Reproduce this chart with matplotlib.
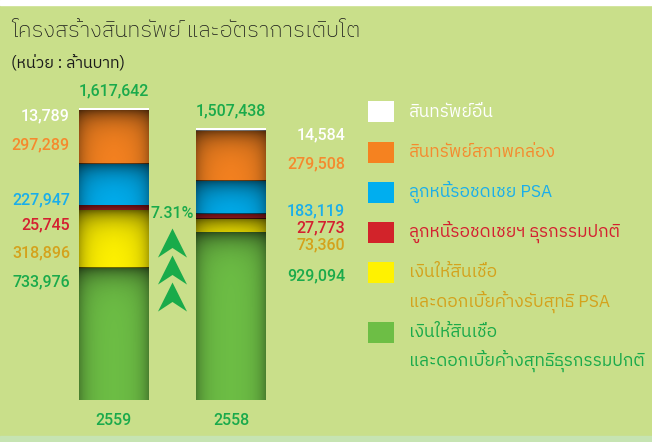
import numpy as np
import matplotlib
matplotlib.use("Agg")
import matplotlib.pyplot as plt
from matplotlib.path import Path

thai = ['IBM Plex Sans Thai', 'Noto Sans Thai', 'DejaVu Sans']
num_font = ['Roboto', 'DejaVu Sans']
plt.rcParams['font.family'] = thai

years = ['2559', '2558']
# stacked from bottom to top
series_names = [
    'เงินให้สินเชื่อ\nและดอกเบี้ยค้างสุทธิธุรกรรมปกติ',
    'เงินให้สินเชื่อ\nและดอกเบี้ยค้างรับสุทธิ PSA',
    'ลูกหนี้รอชดเชยฯ ธุรกรรมปกติ',
    'ลูกหนี้รอชดเชย PSA',
    'สินทรัพย์สภาพคล่อง',
    'สินทรัพย์อื่น',
]
values_2559 = [733976, 318896, 25745, 227947, 297289, 13789]
values_2558 = [929094, 73360, 27773, 183119, 279508, 14584]
totals = [1617642, 1507438]
growth_label = '7.31%'

fill_colors = ['#6dbe45', '#fff200', '#d2232a', '#00aeef', '#f58220', '#ffffff']
text_colors = ['#1aaa4b', '#d4a21c', '#d42030', '#1aaeea', '#f58a2e', '#ffffff']
bg = '#c9df8a'
green_txt = '#1aaa4b'

fig = plt.figure(figsize=(6.52, 4.42), dpi=100)
fig.patch.set_facecolor(bg)
W, H = 652, 442

def fx(px):
    return px / W

def fy(py):
    return 1 - py / H

# white strip on top, pale strip on bottom
fig.patches.append(plt.Rectangle((0, fy(5)), 1, 5 / H, transform=fig.transFigure, color='white', zorder=0))
fig.patches.append(plt.Rectangle((0, 0), 1, 6 / H, transform=fig.transFigure, color='#c6e4b2', zorder=0))

fig.text(fx(11), fy(31), 'โครงสร้างสินทรัพย์ และอัตราการเติบโต', fontsize=16, fontweight='light',
         color='#1a1a1a', va='center')
fig.text(fx(11), fy(63), '(หน่วย : ล้านบาท)', fontsize=11.5, color='#1a1a1a', va='center')

# bar axes: bottom at y=400px, top at y=100px
ax_l, ax_r, ax_b, ax_t = 50, 295, 400, 100
ax = fig.add_axes([fx(ax_l), fy(ax_b), (ax_r - ax_l) / W, (ax_b - ax_t) / H])
ax.set_facecolor('none')
for s in ax.spines.values():
    s.set_visible(False)
ax.set_xticks([])
ax.set_yticks([])
px_per_unit_x = 117.0
xlim = (-(114 - ax_l) / px_per_unit_x, (ax_r - 114) / px_per_unit_x)
ymax = totals[0] * (ax_b - ax_t) / (ax_b - 108)

x = np.arange(len(years))
width = 70 / px_per_unit_x
data = np.array([values_2559, values_2558]).T
bottom = np.zeros(len(years))
patches = []
for i in range(len(series_names)):
    bars = ax.bar(x, data[i], width, bottom=bottom, color=fill_colors[i], linewidth=0, zorder=2)
    patches.append(bars)
    bottom = bottom + data[i]

# inner shading on each coloured segment
px_per_y = (ax_b - ax_t) / ymax
for i, bars in enumerate(patches):
    if fill_colors[i] == '#ffffff':
        continue
    for p in bars:
        x0, y0, w, h = p.get_x(), p.get_y(), p.get_width(), p.get_height()
        hp = max(int(h * px_per_y), 2)
        wp = 70
        yy = np.linspace(0, hp, hp)[:, None]       # distance from top in px
        xx = np.linspace(0, wp, wp)[None, :]
        dside = np.minimum(xx, wp - xx)
        a_top = 0.55 * np.exp(-yy / 11.0)
        a_side = 0.32 * np.exp(-dside / 9.0)
        alpha = 1 - (1 - a_top) * (1 - a_side)
        img = np.zeros((hp, wp, 4))
        img[..., 3] = alpha
        ax.imshow(img, extent=(x0, x0 + w, y0, y0 + h), aspect='auto', zorder=3,
                  interpolation='bilinear', origin='upper')
ax.set_xlim(*xlim)
ax.set_ylim(0, ymax)

# totals above bars
for xi, t in zip(x, totals):
    ax.annotate(f'{t:,}', (xi, t), xytext=(0, 12), textcoords='offset points',
                ha='center', va='center', color=green_txt, fontsize=11.5,
                fontweight='medium', family=num_font)

# year labels
for xi, yr in zip(x, years):
    ax.annotate(yr, (xi, 0), xytext=(0, -15), textcoords='offset points',
                ha='center', va='center', color=green_txt, fontsize=11.5,
                fontweight='medium', family=num_font)

# value labels (layout positions in px, bottom-to-top order of series)
left_label_y = [282, 253, 225, 200, 145, 116]
right_label_y = [276, 245, 228, 211, 164, 135]
for i in range(len(series_names)):
    fig.text(fx(70), fy(left_label_y[i]), f'{values_2559[i]:,}', ha='right', va='center',
             color=text_colors[i], fontsize=11.5, fontweight='medium', family=num_font)
    fig.text(fx(345), fy(right_label_y[i]), f'{values_2558[i]:,}', ha='right', va='center',
             color=text_colors[i], fontsize=11.5, fontweight='medium', family=num_font)

# growth label with chevrons
fig.text(fx(172), fy(213), growth_label, ha='center', va='center', color=green_txt,
         fontsize=11.5, fontweight='medium', family=num_font)
chevron = Path([(0, 0.55), (0.5, -0.45), (0, -0.12), (-0.5, -0.45), (0, 0.55)],
               [Path.MOVETO, Path.LINETO, Path.LINETO, Path.LINETO, Path.CLOSEPOLY])
cx = fig.add_axes([0, 0, 1, 1], facecolor='none')
cx.set_xlim(0, W)
cx.set_ylim(H, 0)
cx.axis('off')
cx.plot([172, 172, 172], [244, 271, 298], linestyle='none', marker=chevron,
        markersize=23, color='#19ab4a', markeredgewidth=0)

# legend
leg_y = [332, 272, 232, 192, 152, 111]
leg_text_y = [[332, 361], [272, 302], [232], [192], [152], [112]]
for i in range(len(series_names)):
    cx.add_patch(plt.Rectangle((368, leg_y[i] - 10.5), 26, 21, color=fill_colors[i], linewidth=0))
    for line, ty in zip(series_names[i].split('\n'), leg_text_y[i]):
        cx.text(409, ty, line, ha='left', va='center', color=text_colors[i], fontsize=12.5)

fig.savefig('out.png', dpi=100, facecolor=fig.get_facecolor())
